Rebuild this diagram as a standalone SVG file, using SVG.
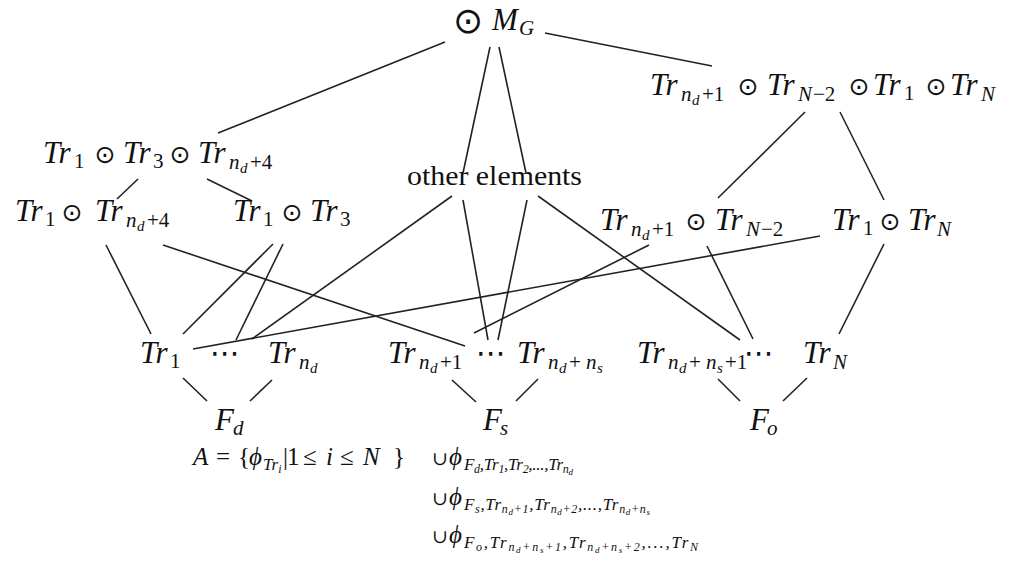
<svg xmlns="http://www.w3.org/2000/svg" width="1016" height="562" viewBox="0 0 1016 562">
<style>
text{fill:#111;font-family:"Liberation Serif","DejaVu Serif",serif}
.m{font-style:italic;font-size:31px}
.s{font-style:italic;font-size:21px}
.su{font-size:21px}
.ss{font-style:italic;font-size:15px}
.od{font-family:"DejaVu Sans",sans-serif;font-size:25px;text-anchor:middle}
.dots{font-family:"DejaVu Sans",sans-serif;font-size:30px;text-anchor:middle}
.t{font-size:28px}
.f1{font-style:italic;font-size:25px}
.f1u{font-size:25px}
.f2{font-style:italic;font-size:17px}
.f2u{font-size:17px}
.f3{font-style:italic;font-size:12px}
.f3u{font-size:12px}
.f4{font-style:italic;font-size:9px}
.cup{font-family:"DejaVu Serif",serif;font-size:19px}
#edges line{stroke:#222;stroke-width:1.6}
</style>
<rect width="1016" height="562" fill="#fff"/>
<g id="edges">
<line x1="445" y1="42" x2="218" y2="133"/>
<line x1="545" y1="33" x2="712" y2="66"/>
<line x1="490" y1="47" x2="463" y2="173"/>
<line x1="499" y1="47" x2="526" y2="173"/>
<line x1="138" y1="179" x2="117" y2="199"/>
<line x1="207" y1="179" x2="252" y2="201"/>
<line x1="805" y1="112" x2="718" y2="198"/>
<line x1="840" y1="112" x2="884" y2="200"/>
<line x1="452" y1="196" x2="252" y2="339"/>
<line x1="463" y1="200" x2="488" y2="340"/>
<line x1="527" y1="200" x2="498" y2="340"/>
<line x1="538" y1="196" x2="740" y2="340"/>
<line x1="106" y1="245" x2="151" y2="334"/>
<line x1="163" y1="245" x2="465" y2="346"/>
<line x1="273" y1="244" x2="183" y2="334"/>
<line x1="283" y1="244" x2="236" y2="340"/>
<line x1="193" y1="349" x2="820" y2="236"/>
<line x1="649" y1="245" x2="474" y2="333"/>
<line x1="707" y1="246" x2="753" y2="339"/>
<line x1="884" y1="244" x2="839" y2="334"/>
<line x1="183" y1="378" x2="207" y2="401"/>
<line x1="272" y1="380" x2="250" y2="401"/>
<line x1="452" y1="380" x2="476" y2="402"/>
<line x1="538" y1="379" x2="516" y2="401"/>
<line x1="718" y1="379" x2="740" y2="401"/>
<line x1="807" y1="378" x2="783" y2="401"/>
</g>
<g id="mg">
<text class="od" x="468" y="33" style="font-size:36px">⊙</text>
<text class="m" x="492" y="30">M</text>
<text class="s" x="519" y="35">G</text>
</g>
<g id="top_right">
<text class="m" x="650" y="95">Tr</text>
<text class="s" x="681" y="101">n</text><text class="ss" x="692" y="105">d</text><text class="su" x="702" y="101">+1</text>
<text class="od" x="748" y="95">⊙</text>
<text class="m" x="767" y="95">Tr</text>
<text class="s" x="798" y="101">N</text><text class="su" x="813" y="101">−2</text>
<text class="od" x="859" y="95">⊙</text>
<text class="m" x="873" y="95">Tr</text>
<text class="su" x="904" y="100">1</text>
<text class="od" x="936" y="95">⊙</text>
<text class="m" x="950" y="95">Tr</text>
<text class="s" x="981" y="101">N</text>
</g>
<g id="left_top">
<text class="m" x="43" y="163">Tr</text><text class="su" x="74" y="168">1</text>
<text class="od" x="105" y="163">⊙</text>
<text class="m" x="123" y="163">Tr</text><text class="su" x="153" y="168">3</text>
<text class="od" x="180" y="163">⊙</text>
<text class="m" x="198" y="163">Tr</text>
<text class="s" x="229" y="169">n</text><text class="ss" x="240" y="173">d</text><text class="su" x="250" y="169">+4</text>
</g>
<g id="left_a">
<text class="m" x="15" y="221">Tr</text><text class="su" x="45" y="226">1</text>
<text class="od" x="72" y="221">⊙</text>
<text class="m" x="95" y="221">Tr</text>
<text class="s" x="126" y="227">n</text><text class="ss" x="137" y="231">d</text><text class="su" x="147" y="227">+4</text>
</g>
<g id="left_b">
<text class="m" x="233" y="221">Tr</text><text class="su" x="263" y="226">1</text>
<text class="od" x="292" y="221">⊙</text>
<text class="m" x="310" y="221">Tr</text><text class="su" x="340" y="226">3</text>
</g>
<g id="other">
<text class="t" x="407" y="185" textLength="175" lengthAdjust="spacingAndGlyphs">other elements</text>
</g>
<g id="mid_right">
<text class="m" x="600" y="230">Tr</text>
<text class="s" x="631" y="236">n</text><text class="ss" x="642" y="240">d</text><text class="su" x="652" y="236">+1</text>
<text class="od" x="696" y="230">⊙</text>
<text class="m" x="715" y="230">Tr</text>
<text class="s" x="746" y="236">N</text><text class="su" x="761" y="236">−2</text>
</g>
<g id="right">
<text class="m" x="832" y="230">Tr</text><text class="su" x="863" y="235">1</text>
<text class="od" x="890" y="230">⊙</text>
<text class="m" x="908" y="230">Tr</text><text class="s" x="937" y="236">N</text>
</g>
<g id="tr1">
<text class="m" x="140" y="363">Tr</text><text class="su" x="170" y="368">1</text>
</g>
<g id="dots_d"><text class="dots" x="225" y="363">⋯</text></g>
<g id="trnd">
<text class="m" x="268" y="363">Tr</text><text class="s" x="299" y="369">n</text><text class="ss" x="310" y="373">d</text>
</g>
<g id="trnd1">
<text class="m" x="388" y="363">Tr</text><text class="s" x="419" y="369">n</text><text class="ss" x="430" y="373">d</text><text class="su" x="440" y="369">+1</text>
</g>
<g id="dots_s"><text class="dots" x="491" y="363">⋯</text></g>
<g id="trndns">
<text class="m" x="517" y="363">Tr</text><text class="s" x="548" y="369">n</text><text class="ss" x="559" y="373">d</text><text class="su" x="569" y="369">+</text><text class="s" x="586" y="369">n</text><text class="ss" x="597" y="373">s</text>
</g>
<g id="trndns1">
<text class="m" x="637" y="363">Tr</text><text class="s" x="668" y="369">n</text><text class="ss" x="679" y="373">d</text><text class="su" x="689" y="369">+</text><text class="s" x="706" y="369">n</text><text class="ss" x="717" y="373">s</text><text class="su" x="725" y="369">+1</text>
</g>
<g id="dots_o"><text class="dots" x="759" y="363">⋯</text></g>
<g id="trN">
<text class="m" x="803" y="363">Tr</text><text class="s" x="833" y="369">N</text>
</g>
<g id="Fd"><text class="m" x="215" y="430">F</text><text class="s" x="233" y="435">d</text></g>
<g id="Fs"><text class="m" x="483" y="430">F</text><text class="s" x="500" y="435">s</text></g>
<g id="Fo"><text class="m" x="750" y="430">F</text><text class="s" x="767" y="435">o</text></g>
<g id="formula">
<text class="f1" x="193" y="465">A</text>
<text class="f1u" x="216" y="465">=</text>
<text class="f1u" x="238" y="465">{</text>
<text class="f1" x="249" y="465">ϕ</text>
<text class="f2" x="263" y="470">Tr<tspan class="f3" dy="3">i</tspan></text>
<text class="f1u" x="283" y="465">|</text>
<text class="f1u" x="287" y="465">1</text>
<text class="f1u" x="303" y="465">≤</text>
<text class="f1" x="326" y="465">i</text>
<text class="f1u" x="340" y="465">≤</text>
<text class="f1" x="363" y="465">N</text>
<text class="f1u" x="393" y="465">}</text>
<text class="cup" x="432" y="465">∪</text>
<text class="f1" x="449" y="465">ϕ</text>
<text class="f2" x="464" y="470" textLength="109" lengthAdjust="spacing">F<tspan class="f3" dy="3">d</tspan><tspan dy="-3">,Tr</tspan><tspan class="f3u" dy="3">1</tspan><tspan dy="-3">,Tr</tspan><tspan class="f3u" dy="3">2</tspan><tspan class="f2u" dy="-3">,...,</tspan><tspan>Tr</tspan><tspan class="f3" dy="3">n</tspan><tspan class="f4" dy="2">d</tspan></text>
<text class="cup" x="432" y="505">∪</text>
<text class="f1" x="449" y="505">ϕ</text>
<text class="f2" x="464" y="510" textLength="186" lengthAdjust="spacing">F<tspan class="f3" dy="3">s</tspan><tspan dy="-3">,Tr</tspan><tspan class="f3" dy="3">n</tspan><tspan class="f4" dy="2">d</tspan><tspan class="f3u" dy="-2">+1</tspan><tspan dy="-3">,Tr</tspan><tspan class="f3" dy="3">n</tspan><tspan class="f4" dy="2">d</tspan><tspan class="f3u" dy="-2">+2</tspan><tspan class="f2u" dy="-3">,...,</tspan><tspan>Tr</tspan><tspan class="f3" dy="3">n</tspan><tspan class="f4" dy="2">d</tspan><tspan class="f3u" dy="-2">+</tspan><tspan class="f3">n</tspan><tspan class="f4" dy="2">s</tspan></text>
<text class="cup" x="432" y="543">∪</text>
<text class="f1" x="449" y="543">ϕ</text>
<text class="f2" x="464" y="548" textLength="234" lengthAdjust="spacing">F<tspan class="f3" dy="3">o</tspan><tspan dy="-3">,Tr</tspan><tspan class="f3" dy="3">n</tspan><tspan class="f4" dy="2">d</tspan><tspan class="f3u" dy="-2">+</tspan><tspan class="f3">n</tspan><tspan class="f4" dy="2">s</tspan><tspan class="f3u" dy="-2">+1</tspan><tspan dy="-3">,Tr</tspan><tspan class="f3" dy="3">n</tspan><tspan class="f4" dy="2">d</tspan><tspan class="f3u" dy="-2">+</tspan><tspan class="f3">n</tspan><tspan class="f4" dy="2">s</tspan><tspan class="f3u" dy="-2">+2</tspan><tspan class="f2u" dy="-3">,...,</tspan><tspan>Tr</tspan><tspan class="f3" dy="3">N</tspan></text>
</g>
</svg>
